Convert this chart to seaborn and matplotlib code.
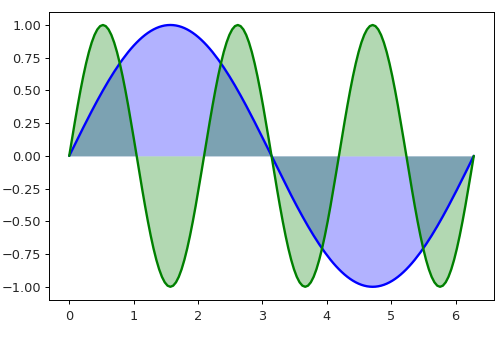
import numpy as np
import pandas as pd
import matplotlib
matplotlib.use("Agg")
import matplotlib.pyplot as plt
import seaborn as sns

# Blue curve: rising quarter (0 -> peak), read at 37 evenly spaced x positions
blue_quarter = [0, .0436, .0872, .1305, .1736, .2164, .2588, .3007, .3420, .3827,
                .4226, .4617, .5, .5373, .5736, .6088, .6428, .6756, .7071, .7373,
                .7660, .7934, .8192, .8434, .8660, .8870, .9063, .9239, .9397, .9537,
                .9659, .9763, .9848, .9914, .9962, .9990, 1]
# Green curve: rising quarter of one lobe, read at the same x spacing
green_quarter = [0, .1305, .2588, .3827, .5, .6088, .7071, .7934, .8660, .9239,
                 .9659, .9914, 1]

# assemble full waves by the curves' mirror symmetry
blue_half = blue_quarter + blue_quarter[-2::-1]            # 0 .. peak .. 0
y_blue = blue_half + [-v for v in blue_half[1:]]           # full period
green_half = green_quarter + green_quarter[-2::-1]
green_period = green_half + [-v for v in green_half[1:-1]]
y_green = green_period * 3 + [0]

x_vals = np.linspace(0, 2 * np.pi, len(y_blue))

y_ticks = [-1.00, -0.75, -0.50, -0.25, 0.00, 0.25, 0.50, 0.75, 1.00]
x_ticks = [0, 1, 2, 3, 4, 5, 6]

df = pd.DataFrame({"x": x_vals, "blue": y_blue, "green": y_green})

sns.set_style("ticks")
plt.rcParams["font.family"] = ["DejaVu Sans"]

fig = plt.figure(figsize=(5, 3.4), dpi=100)
ax = fig.add_axes([0.098, 0.118, 0.89, 0.847])

ax.fill_between(df["x"], df["blue"], color="blue", alpha=0.3, linewidth=0)
ax.fill_between(df["x"], df["green"], color="green", alpha=0.3, linewidth=0)
sns.lineplot(data=df, x="x", y="blue", color="blue", linewidth=1.7, ax=ax)
sns.lineplot(data=df, x="x", y="green", color="green", linewidth=1.7, ax=ax)

ax.set_xticks(x_ticks)
ax.set_yticks(y_ticks)
ax.set_yticklabels([f"{v:.2f}".replace("-", "\u2212") for v in y_ticks])
ax.set_xlabel("")
ax.set_ylabel("")
ax.tick_params(labelsize=9.3, length=3.2, width=0.7, color="black")
ax.tick_params(axis="y", pad=2.5)
ax.tick_params(axis="x", pad=4)
for s in ax.spines.values():
    s.set_visible(True)
    s.set_color("black")
    s.set_linewidth(0.7)

fig.savefig("out.png", dpi=100)
